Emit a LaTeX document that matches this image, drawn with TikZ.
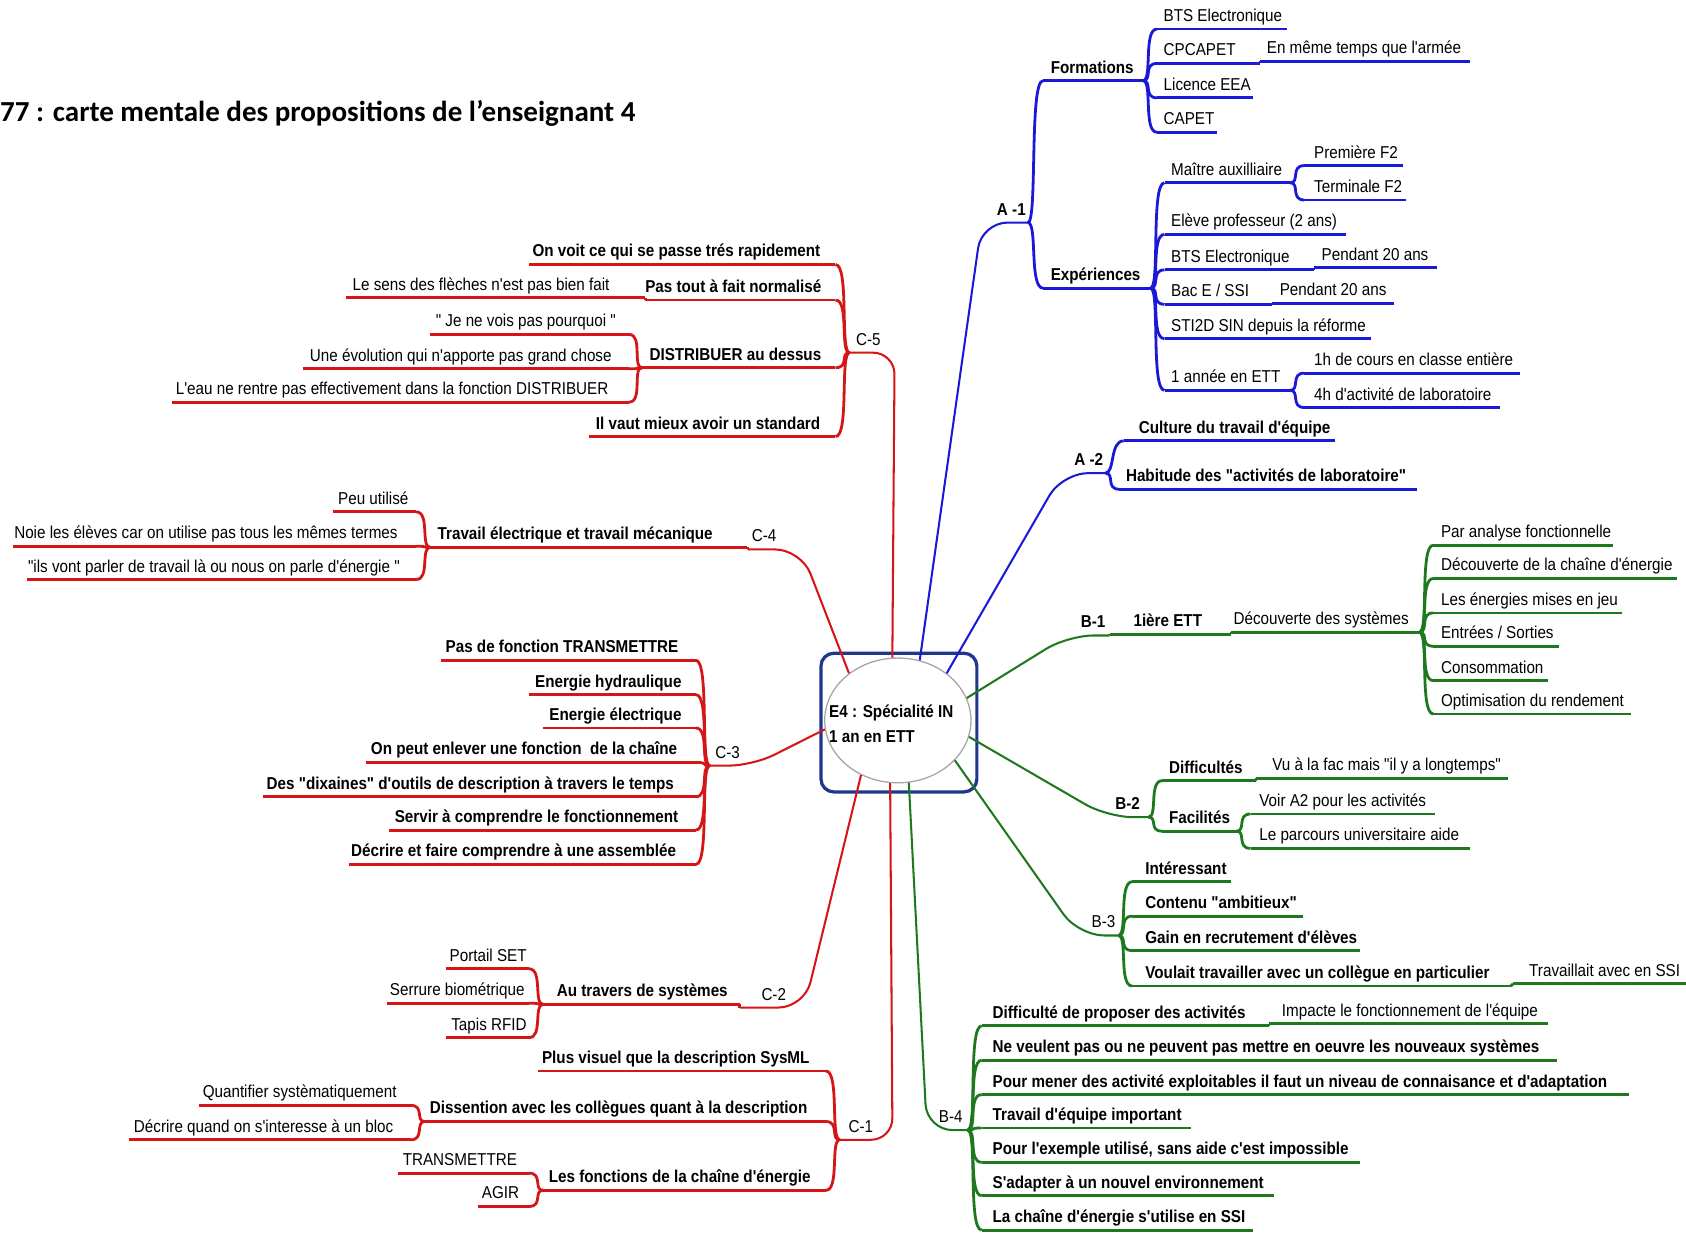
\documentclass[tikz,border=0pt]{standalone}
\usepackage{fontspec}
\setmainfont{Liberation Sans}[FakeStretch=0.885,Ligatures=TeXOff]
\newfontfamily\titlefont{Carlito}
\usetikzlibrary{calc,shapes.geometric}
\definecolor{blueL}{RGB}{25,25,215}
\definecolor{redL}{RGB}{212,22,22}
\definecolor{greenL}{RGB}{30,120,30}
\definecolor{boxc}{RGB}{30,55,140}
\newcommand\itm[8]{%
  \coordinate (#1-s) at (#5,#7);
  \coordinate (#1-e) at (#6,#7);
  \draw[#2,ul] (#1-s) -- (#1-e);
  \node[#3] (#1) at (#4,{#7-7}) {#8};}
\begin{document}
\begin{tikzpicture}[x=1pt,y=-1pt,
  ul/.style={line width=2.6pt},
  mainln/.style={line width=1.9pt},
  rt/.style={anchor=base west, inner sep=0pt, font=\fontsize{16}{18}\selectfont},
  lt/.style={anchor=base east, inner sep=0pt, font=\fontsize{16}{18}\selectfont},
  bf/.style={font=\fontsize{16}{18}\selectfont\bfseries},
  brR/.style={to path={.. controls ($(\tikztostart)+(9,0)$) and ($(\tikztotarget)+(-13,0)$) .. (\tikztotarget)}},
  brL/.style={to path={.. controls ($(\tikztostart)+(-9,0)$) and ($(\tikztotarget)+(13,0)$) .. (\tikztotarget)}},
]
\fill[white] (0,0) rectangle (1568,1146);
\useasboundingbox (0,0) rectangle (1568,1146);

% title
\node[anchor=base west, inner sep=0pt, font=\titlefont\fontsize{27}{30}\selectfont\bfseries] (title) at (0,113) {77 : carte mentale des propositions de l’enseignant 4};

% centre
\node[draw=boxc, line width=3pt, rounded corners=12pt, minimum width=145pt, minimum height=129pt] (rootbox) at (836,672) {};
\node[ellipse, draw=gray!70, line width=1.2pt, fill=white, minimum width=136pt, minimum height=116pt, inner sep=0pt] (root) at (835,670) {};
\node[align=left, anchor=west, inner sep=0pt, font=\fontsize{16}{23}\selectfont\bfseries] (roottxt) at (771,673) {E4 : Spécialité IN\\1 an en ETT};

% ---------- A-1 ----------
\node[rt,bf] (a1lab) at (927,200) {A -1};
\coordinate (a1) at (956,207);
\draw[blueL,mainln,rounded corners=24] (root.70) -- (913,207) -- (a1);
\itm{form}{blueL}{rt,bf}{977}{970}{1063}{75}{Formations}
\itm{exp}{blueL}{rt,bf}{977}{970}{1070}{268}{Expériences}
\draw[blueL,ul] (a1) to[brR] (form-s);
\draw[blueL,ul] (a1) to[brR] (exp-s);

\itm{bts1}{blueL}{rt}{1082}{1076}{1197}{27}{BTS Electronique}
\itm{cpc}{blueL}{rt}{1082}{1076}{1172}{59}{CPCAPET}
\itm{arm}{blueL}{rt}{1178}{1172}{1367}{57}{En même temps que l'armée}
\itm{lic}{blueL}{rt}{1082}{1076}{1165}{91}{Licence EEA}
\itm{cap}{blueL}{rt}{1082}{1076}{1132}{123}{CAPET}
\foreach \c in {bts1,cpc,lic,cap} \draw[blueL,ul] (form-e) to[brR] (\c-s);
\draw[blueL,ul] (cpc-e) -- (arm-s);

\itm{ma}{blueL}{rt}{1089}{1083}{1200}{170}{Maître auxilliaire}
\itm{pf}{blueL}{rt}{1222}{1213}{1305}{154}{Première F2}
\itm{tf}{blueL}{rt}{1222}{1213}{1308}{186}{Terminale F2}
\itm{elv}{blueL}{rt}{1089}{1083}{1252}{218}{Elève professeur (2 ans)}
\itm{btsb}{blueL}{rt}{1089}{1083}{1222}{251}{BTS Electronique}
\itm{pva}{blueL}{rt}{1229}{1222}{1336}{249}{Pendant 20 ans}
\itm{bac}{blueL}{rt}{1089}{1083}{1183}{283}{Bac E / SSI}
\itm{pvb}{blueL}{rt}{1190}{1183}{1296}{282}{Pendant 20 ans}
\itm{sti}{blueL}{rt}{1089}{1083}{1275}{315}{STI2D SIN depuis la réforme}
\itm{ann}{blueL}{rt}{1089}{1083}{1200}{363}{1 année en ETT}
\itm{cou}{blueL}{rt}{1222}{1213}{1414}{347}{1h de cours en classe entière}
\itm{labo}{blueL}{rt}{1222}{1213}{1395}{379}{4h d'activité de laboratoire}
\foreach \c in {ma,elv,btsb,bac,sti,ann} \draw[blueL,ul] (exp-e) to[brR] (\c-s);
\foreach \c in {pf,tf} \draw[blueL,ul] (ma-e) to[brR] (\c-s);
\foreach \c in {cou,labo} \draw[blueL,ul] (ann-e) to[brR] (\c-s);
\draw[blueL,ul] (btsb-e) -- (pva-s);
\draw[blueL,ul] (bac-e) -- (pvb-s);

% ---------- A-2 ----------
\node[rt,bf] (a2lab) at (999,433) {A -2};
\coordinate (a2) at (1028,440);
\draw[blueL,mainln,rounded corners=24] (root.44) -- (988,440) -- (a2);
\itm{cul}{blueL}{rt,bf}{1059}{1045}{1242}{410}{Culture du travail d'équipe}
\itm{hab}{blueL}{rt,bf}{1047}{1041}{1318}{455}{Habitude des "activités de laboratoire"}
\foreach \c in {cul,hab} \draw[blueL,ul] (a2) to[brR] (\c-s);

% ---------- B-1 ----------
\node[rt,bf] (b1lab) at (1005,584) {B-1};
\coordinate (b1) at (1032,591);
\draw[greenL,mainln,rounded corners=24] (root.18) -- (993,591) -- (b1);
\itm{iere}{greenL}{rt,bf}{1054}{1032}{1145}{590}{1ière ETT}
\itm{dds}{greenL}{rt}{1147}{1145}{1320}{588}{Découverte des systèmes}
\draw[greenL,ul] (b1) -- (iere-s);
\draw[greenL,ul] (iere-e) -- (dds-s);
\itm{paf}{greenL}{rt}{1340}{1333}{1500}{507}{Par analyse fonctionnelle}
\itm{dce}{greenL}{rt}{1340}{1333}{1560}{538}{Découverte de la chaîne d'énergie}
\itm{lem}{greenL}{rt}{1340}{1333}{1508}{570}{Les énergies mises en jeu}
\itm{ens}{greenL}{rt}{1340}{1333}{1450}{601}{Entrées / Sorties}
\itm{cns}{greenL}{rt}{1340}{1333}{1440}{633}{Consommation}
\itm{opt}{greenL}{rt}{1340}{1333}{1517}{664}{Optimisation du rendement}
\foreach \c in {paf,dce,lem,ens,cns,opt} \draw[greenL,ul] (dds-e) to[brR] (\c-s);

% ---------- B-2 ----------
\node[rt,bf] (b2lab) at (1037,753) {B-2};
\coordinate (b2) at (1068,760);
\draw[greenL,mainln,rounded corners=24] (root.-13) -- (1030,760) -- (b2);
\itm{dif}{greenL}{rt,bf}{1087}{1081}{1168}{726}{Difficultés}
\itm{vuf}{greenL}{rt}{1183}{1168}{1402}{724}{Vu à la fac mais "il y a longtemps"}
\itm{fac}{greenL}{rt,bf}{1087}{1081}{1150}{773}{Facilités}
\itm{voir}{greenL}{rt}{1171}{1163}{1335}{757}{Voir A2 pour les activités}
\itm{parc}{greenL}{rt}{1171}{1163}{1367}{789}{Le parcours universitaire aide}
\foreach \c in {dif,fac} \draw[greenL,ul] (b2) to[brR] (\c-s);
\draw[greenL,ul] (dif-e) -- (vuf-s);
\foreach \c in {voir,parc} \draw[greenL,ul] (fac-e) to[brR] (\c-s);

% ---------- B-3 ----------
\node[rt] (b3lab) at (1015,863) {B-3};
\coordinate (b3) at (1040,870);
\draw[greenL,mainln,rounded corners=24] (root.-35) -- (1003,870) -- (b3);
\itm{inte}{greenL}{rt,bf}{1065}{1053}{1145}{820}{Intéressant}
\itm{cont}{greenL}{rt,bf}{1065}{1053}{1212}{852}{Contenu "ambitieux"}
\itm{gain}{greenL}{rt,bf}{1065}{1053}{1265}{884}{Gain en recrutement d'élèves}
\itm{voul}{greenL}{rt,bf}{1065}{1053}{1405}{917}{Voulait travailler avec un collègue en particulier}
\itm{tav}{greenL}{rt}{1422}{1407}{1568}{915}{Travaillait avec en SSI}
\foreach \c in {inte,cont,gain,voul} \draw[greenL,ul] (b3) to[brR] (\c-s);
\draw[greenL,ul] (voul-e) -- (tav-s);

% ---------- B-4 ----------
\node[rt] (b4lab) at (873,1044) {B-4};
\coordinate (b4) at (900,1051);
\draw[greenL,mainln,rounded corners=24] (root.-80) -- (862,1051) -- (b4);
\itm{dpa}{greenL}{rt,bf}{923}{913}{1180}{954}{Difficulté de proposer des activités}
\itm{imp}{greenL}{rt}{1192}{1180}{1440}{952}{Impacte le fonctionnement de l'équipe}
\itm{nvp}{greenL}{rt,bf}{923}{913}{1448}{986}{Ne veulent pas ou ne peuvent pas mettre en oeuvre les nouveaux systèmes}
\itm{pmd}{greenL}{rt,bf}{923}{913}{1515}{1018}{Pour mener des activité exploitables il faut un niveau de connaisance et d'adaptation}
\itm{tei}{greenL}{rt,bf}{923}{913}{1108}{1049}{Travail d'équipe important}
\itm{pex}{greenL}{rt,bf}{923}{913}{1265}{1081}{Pour l'exemple utilisé, sans aide c'est impossible}
\itm{sad}{greenL}{rt,bf}{923}{913}{1185}{1112}{S'adapter à un nouvel environnement}
\itm{lcs}{greenL}{rt,bf}{923}{913}{1165}{1144}{La chaîne d'énergie s'utilise en SSI}
\foreach \c in {dpa,nvp,pmd,tei,pex,sad,lcs} \draw[greenL,ul] (b4) to[brR] (\c-s);
\draw[greenL,ul] (dpa-e) -- (imp-s);

% ---------- C-5 ----------
\node[rt] (c5lab) at (796,321) {C-5};
\coordinate (c5) at (790,328);
\draw[redL,mainln,rounded corners=20] (root.95) -- (832,328) -- (c5);
\itm{ovq}{redL}{lt,bf}{763}{777}{492}{246}{On voit ce qui se passe trés rapidement}
\itm{ptf}{redL}{lt,bf}{764}{777}{600}{279}{Pas tout à fait normalisé}
\itm{sdf}{redL}{lt}{567}{600}{322}{277}{Le sens des flèches n'est pas bien fait}
\itm{dau}{redL}{lt,bf}{764}{777}{597}{342}{DISTRIBUER au dessus}
\itm{jnv}{redL}{lt}{573}{585}{400}{311}{" Je ne vois pas pourquoi "}
\itm{evo}{redL}{lt}{569}{585}{282}{343}{Une évolution qui n'apporte pas grand chose}
\itm{eau}{redL}{lt}{566}{585}{160}{374}{L'eau ne rentre pas effectivement dans la fonction DISTRIBUER}
\itm{ivm}{redL}{lt,bf}{763}{777}{548}{406}{Il vaut mieux avoir un standard}
\foreach \c in {ovq,ptf,dau,ivm} \draw[redL,ul] (c5) to[brL] (\c-s);
\foreach \c in {jnv,evo,eau} \draw[redL,ul] (dau-e) to[brL] (\c-s);
\draw[redL,ul] (ptf-e) -- (sdf-s);

% ---------- C-4 ----------
\node[rt] (c4lab) at (699,504) {C-4};
\coordinate (c4) at (695,511);
\draw[redL,mainln,rounded corners=24] (root.136) -- (745,511) -- (c4);
\itm{tet}{redL}{lt,bf}{663}{695}{400}{509}{Travail électrique et travail mécanique}
\itm{peu}{redL}{lt}{380}{387}{310}{476}{Peu utilisé}
\itm{noi}{redL}{lt}{370}{387}{12}{508}{Noie les élèves car on utilise pas tous les mêmes termes}
\itm{ils}{redL}{lt}{372}{387}{25}{539}{"ils vont parler de travail là ou nous on parle d'énergie "}
\draw[redL,ul] (c4) -- (tet-s);
\foreach \c in {peu,noi,ils} \draw[redL,ul] (tet-e) to[brL] (\c-s);

% ---------- C-3 ----------
\node[rt] (c3lab) at (665,705) {C-3};
\coordinate (c3) at (660,712);
\draw[redL,mainln,rounded corners=22] (root.187) -- (700,712) -- (c3);
\itm{pdf}{redL}{lt,bf}{631}{647}{410}{614}{Pas de fonction TRANSMETTRE}
\itm{ehy}{redL}{lt,bf}{634}{647}{492}{646}{Energie hydraulique}
\itm{eel}{redL}{lt,bf}{634}{647}{505}{677}{Energie électrique}
\itm{ope}{redL}{lt,bf}{630}{647}{340}{709}{On peut enlever une fonction~ de la chaîne}
\itm{ddo}{redL}{lt,bf}{627}{647}{245}{741}{Des "dixaines" d'outils de description à travers le temps}
\itm{scf}{redL}{lt,bf}{631}{647}{362}{772}{Servir à comprendre le fonctionnement}
\itm{dfc}{redL}{lt,bf}{629}{647}{325}{804}{Décrire et faire comprendre à une assemblée}
\foreach \c in {pdf,ehy,eel,ope,ddo,scf,dfc} \draw[redL,ul] (c3) to[brL] (\c-s);

% ---------- C-2 ----------
\node[rt] (c2lab) at (708,930) {C-2};
\coordinate (c2) at (688,937);
\draw[redL,mainln,rounded corners=24] (root.-124) -- (748,937) -- (c2);
\itm{atd}{redL}{lt,bf}{677}{688}{505}{934}{Au travers de systèmes}
\itm{pse}{redL}{lt}{490}{492}{415}{901}{Portail SET}
\itm{sbi}{redL}{lt}{488}{492}{360}{933}{Serrure biométrique}
\itm{trf}{redL}{lt}{490}{492}{415}{965}{Tapis RFID}
\draw[redL,ul] (c2) -- (atd-s);
\foreach \c in {pse,sbi,trf} \draw[redL,ul] (atd-e) to[brL] (\c-s);

% ---------- C-1 ----------
\node[rt] (c1lab) at (789,1053) {C-1};
\coordinate (c1) at (781,1060);
\draw[redL,mainln,rounded corners=20] (root.-97) -- (830,1060) -- (c1);
\itm{pvq}{redL}{lt,bf}{753}{768}{500}{996}{Plus visuel que la description SysML}
\itm{dac}{redL}{lt,bf}{751}{768}{395}{1043}{Dissention avec les collègues quant à la description}
\itm{qsy}{redL}{lt}{369}{382}{185}{1028}{Quantifier systèmatiquement}
\itm{dqo}{redL}{lt}{366}{382}{120}{1060}{Décrire quand on s'interesse à un bloc}
\itm{lfc}{redL}{lt,bf}{754}{768}{505}{1107}{Les fonctions de la chaîne d'énergie}
\itm{tra}{redL}{lt}{481}{492}{370}{1091}{TRANSMETTRE}
\itm{agi}{redL}{lt}{483}{492}{445}{1122}{AGIR}
\foreach \c in {pvq,dac,lfc} \draw[redL,ul] (c1) to[brL] (\c-s);
\foreach \c in {qsy,dqo} \draw[redL,ul] (dac-e) to[brL] (\c-s);
\foreach \c in {tra,agi} \draw[redL,ul] (lfc-e) to[brL] (\c-s);
\end{tikzpicture}
\end{document}
